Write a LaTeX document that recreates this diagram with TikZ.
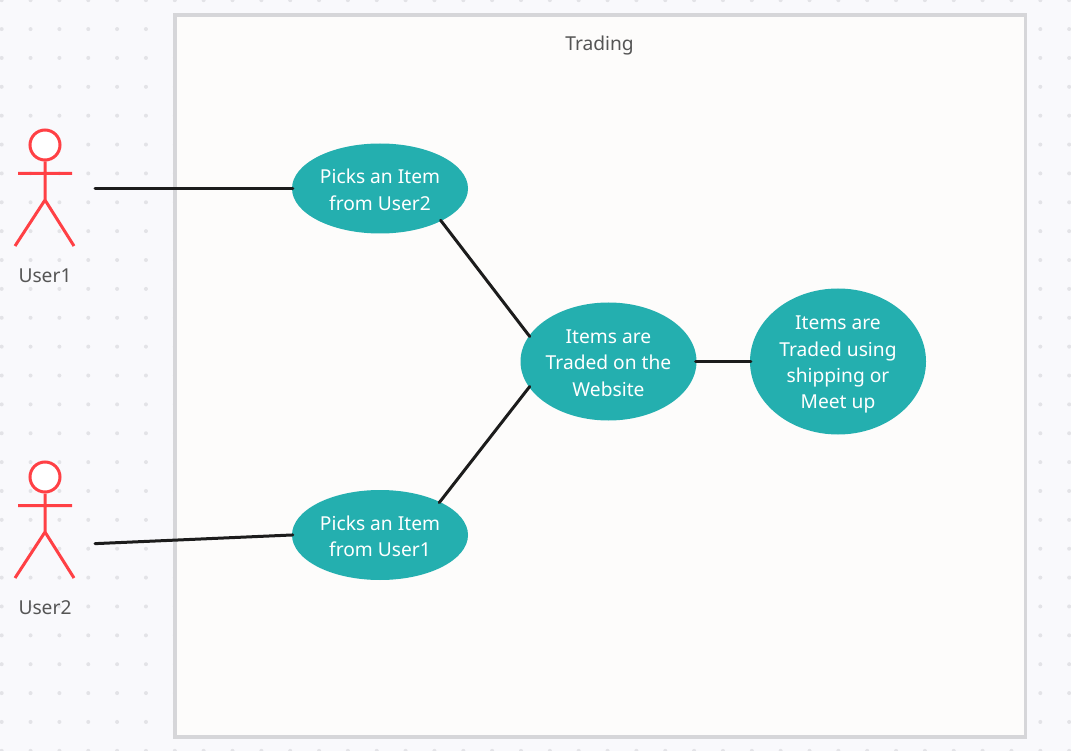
\documentclass[tikz,border=0pt]{standalone}
\usepackage{fontspec}
\setmainfont{Noto Sans}
\definecolor{pagebg}{HTML}{F9F9FC}
\definecolor{griddot}{HTML}{E3E3E7}
\definecolor{boxfill}{HTML}{FDFCFB}
\definecolor{boxline}{HTML}{D6D6D9}
\definecolor{actorred}{HTML}{FF4045}
\definecolor{usecase}{HTML}{24AFAF}
\definecolor{textgrey}{HTML}{555555}
\definecolor{linkblack}{HTML}{1C1C1C}
\usetikzlibrary{shapes.geometric}
\newcommand{\firstline}[1]{\rule{0pt}{#1pt}}
\tikzset{
  usecasenode/.style={ellipse,fill=usecase,text=white,inner sep=-4pt,align=center,
    minimum width=176pt,font=\fontsize{19.2}{26.3}\selectfont},
  actorline/.style={draw=actorred,line width=3pt},
  labeltext/.style={text=textgrey,font=\fontsize{19.2}{26}\selectfont},
  link/.style={draw=linkblack,line width=3pt,line cap=round,shorten <=-1pt,shorten >=-1pt}
}
\begin{document}
\begin{tikzpicture}[x=1pt,y=-1pt]
  \useasboundingbox (0,0) rectangle (1071,751);
  % Draw page and dots
  \fill[pagebg] (0,0) rectangle (1071,751);
  \clip (0,0) rectangle (1071,751);
  \foreach \i in {0,...,37}
    \foreach \j in {0,...,26}
      \fill[griddot] (1.7+\i*28.85,0.2+\j*28.87) circle (2pt);
  % Draw system box
  \draw[boxline,fill=boxfill,line width=3.2pt] (175,15) rectangle (1025.5,737);
  \node[labeltext] (title) at (599.5,45.5) {Trading};
  % Draw actors
  \node[actorline,circle,fill=white,minimum size=30pt,inner sep=0pt] (head1) at (45,145) {};
  \draw[actorline] (head1) -- (45,200) (18,173.5) -- (72,173.5)
        (15,246) -- (45,200) -- (74,246);
  \node[labeltext] (user1) at (45,276) {User1};
  \node[actorline,circle,fill=white,minimum size=30pt,inner sep=0pt] (head2) at (45,477) {};
  \draw[actorline] (head2) -- (45,532) (18,505.5) -- (72,505.5)
        (15,578) -- (45,532) -- (74,578);
  \node[labeltext] (user2) at (45,608) {User2};
  \coordinate (hand1) at (96,188.5);
  \coordinate (hand2) at (96,543.6);
  % Draw use cases
  \node[usecasenode,minimum height=90pt] (pick1) at (380,188.5) {\firstline{17}Picks an Item\\from User2};
  \node[usecasenode,minimum height=90pt] (pick2) at (380,535) {\firstline{17}Picks an Item\\from User1};
  \node[usecasenode,minimum height=118pt] (traded) at (608.5,361.5) {\firstline{17}Items are\\Traded on the\\Website};
  \node[usecasenode,minimum height=146pt] (shipping) at (838,361.5) {\firstline{20}Items are\\Traded using\\shipping or\\Meet up};
  % Draw links
  \draw[link] (hand1) -- (pick1.west);
  \draw[link] (hand2) -- (pick2.west);
  \draw[link] (pick1.-28.8) -- (traded.162);
  \draw[link] (pick2.29.2) -- (traded.198);
  \draw[link] (traded.east) -- (shipping.west);
\end{tikzpicture}
\end{document}
